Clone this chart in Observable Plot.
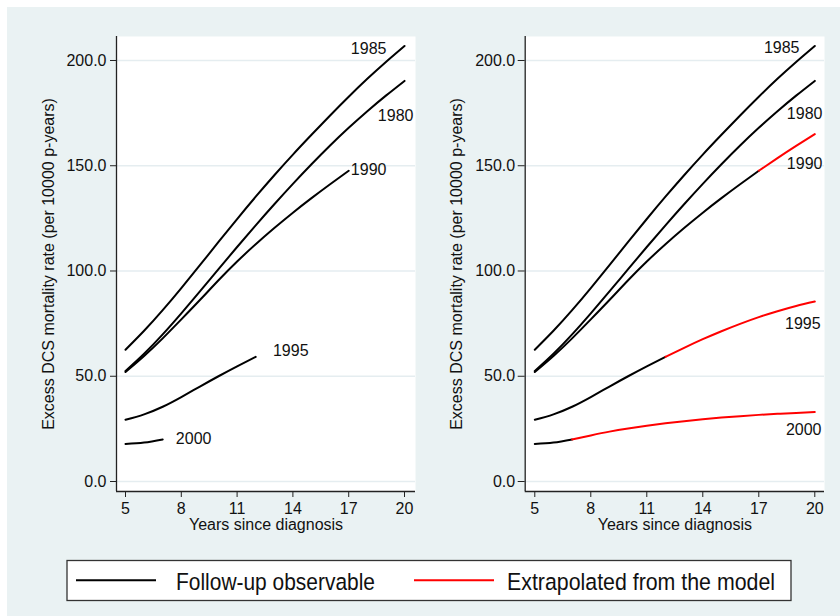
<!DOCTYPE html>
<html>
<head>
<meta charset="utf-8">
<script src="https://cdn.jsdelivr.net/npm/d3@7"></script>
<script src="https://cdn.jsdelivr.net/npm/@observablehq/plot@0.6"></script>
<style>
  body { margin: 0; background: #ffffff; }
  #wrap { position: relative; width: 840px; height: 616px; overflow: hidden; font-family: "Liberation Sans", Arial, sans-serif; }
  #bg { position: absolute; left: 7px; top: 7px; right: 0; bottom: 0; background: #eaf2f3; }
  .panel { position: absolute; top: 0; }
  #legend { position: absolute; left: 0; top: 540px; }
</style>
</head>
<body>
<div id="wrap">
  <div id="bg"></div>
  <div id="left" class="panel" style="left:0px"></div>
  <div id="right" class="panel" style="left:420px"></div>
  <svg id="legend" width="840" height="76"></svg>
</div>
<script>
// ---- data ----
const years = [5, 6, 7, 8, 9, 10, 11, 12, 13, 14, 15, 16, 17, 18, 19, 20];
const cohorts = ["1980", "1985", "1990", "1995", "2000"];
const rate1980 = [52.5, 60.7, 69.9, 79.9, 90.3, 100.9, 111.4, 121.7, 131.7, 141.4, 150.7, 159.6, 168, 175.9, 183.3, 190.3];
const rate1985 = [62.6, 71.6, 81.4, 91.9, 102.8, 113.8, 124.7, 135.3, 145.5, 155.3, 164.7, 173.9, 182.8, 191.3, 199.3, 206.9];
const rate1990 = [52, 59.6, 68, 77, 86.2, 95.6, 104.5, 112.7, 120.4, 127.7, 134.6, 141.2, 147.6, 153.6, 159.4, 165];
const rate1995 = [29.3, 31.9, 35.5, 40.1, 45.1, 50, 54.7, 59.2, 63.5, 67.6, 71.4, 74.9, 78.1, 80.9, 83.4, 85.5];
const rate2000 = [17.8, 18.5, 20, 21.9, 23.7, 25.2, 26.5, 27.65, 28.65, 29.55, 30.35, 31.05, 31.65, 32.15, 32.6, 33];
const rates = [rate1980, rate1985, rate1990, rate1995, rate2000];
const observedUntil = [20, 20, 17, 12, 7];   // last year of observable follow-up per cohort

const xTicks = [5, 8, 11, 14, 17, 20];
const yTicks = [0, 50, 100, 150, 200];

// cohort label anchors (year, rate) for each panel
const leftLabelYear = [20.48, 19.03, 19.03, 14.84, 9.62];
const leftLabelRate = [173.9, 205.7, 148.2, 62.2, 20.4];
const rightLabelYear = [20.41, 19.18, 20.41, 20.31, 20.36];
const rightLabelRate = [174.8, 206.2, 151.1, 75.1, 24.7];

const xTitle = "Years since diagnosis";
const yTitle = "Excess DCS mortality rate (per 10000 p-years)";
const legendLabels = ["Follow-up observable", "Extrapolated from the model"];

// ---- build ----
const FONT = "'Liberation Sans', Arial, Helvetica, sans-serif";

function buildRows(withExtrap) {
  const rows = [];
  cohorts.forEach((c, i) => {
    years.forEach((yr, j) => {
      if (yr <= observedUntil[i]) rows.push({cohort: c, part: "obs", year: yr, value: rates[i][j]});
      if (withExtrap && observedUntil[i] < 20 && yr >= observedUntil[i])
        rows.push({cohort: c, part: "ext", year: yr, value: rates[i][j]});
    });
  });
  return rows;
}

function panel({withExtrap, marginLeft, marginRight, xDomain, labelYear, labelRate, tickSizeY, tickPaddingY}) {
  const rows = buildRows(withExtrap);
  const labels = cohorts.map((c, i) => ({t: c, x: labelYear[i], y: labelRate[i]}));
  const yDomain = [-4.75, 211.4];
  return Plot.plot({
    width: 420,
    height: 540,
    marginTop: 36,
    marginBottom: 49,
    marginLeft,
    marginRight,
    style: {background: "transparent", fontFamily: FONT, fontSize: "16px", color: "#000", overflow: "visible"},
    x: {domain: xDomain},
    y: {domain: yDomain},
    color: {domain: ["obs", "ext"], range: ["#000000", "#ff0000"]},
    marks: [
      Plot.frame({fill: "white", stroke: "none"}),
      Plot.ruleY(yTicks, {stroke: "#e5edf0", strokeWidth: 1.5}),
      Plot.line(rows, {x: "year", y: "value", z: d => d.cohort + d.part, stroke: "part",
        curve: "natural", strokeWidth: 2}),
      Plot.text(labels, {x: "x", y: "y", text: "t", textAnchor: "end", fontSize: 16, fill: "#111"}),
      Plot.ruleX([xDomain[0]], {stroke: "#222", strokeWidth: 1.3}),
      Plot.ruleY([yDomain[0]], {stroke: "#222", strokeWidth: 1.3}),
      Plot.axisX({ticks: xTicks, tickSize: 6, tickPadding: 5, fontSize: 16, label: null, stroke: "#222", fill: "#111"}),
      Plot.axisY({ticks: yTicks, tickFormat: d3.format(".1f"), tickSize: tickSizeY, tickPadding: tickPaddingY,
        fontSize: 16, label: null, stroke: "#222", fill: "#111"}),
      Plot.text([xTitle], {frameAnchor: "bottom", dy: 33, lineAnchor: "middle", textAnchor: "middle", fontSize: 16, fill: "#111"}),
      Plot.text([yTitle], {frameAnchor: "left", dx: -68, rotate: -90, textAnchor: "middle", lineAnchor: "middle", fontSize: 16, fill: "#111"})
    ]
  });
}

document.getElementById("left").append(panel({
  withExtrap: false, marginLeft: 116, marginRight: 5, xDomain: [4.516, 20.591],
  labelYear: leftLabelYear, labelRate: leftLabelRate, tickSizeY: 6, tickPaddingY: 4
}));
document.getElementById("right").append(panel({
  withExtrap: true, marginLeft: 104.7, marginRight: 16, xDomain: [4.486, 20.52],
  labelYear: rightLabelYear, labelRate: rightLabelRate, tickSizeY: 7, tickPaddingY: 3
}));

// ---- legend ----
const lg = d3.select("#legend");
lg.append("rect").attr("x", 67).attr("y", 20.5).attr("width", 724).attr("height", 40)
  .attr("fill", "white").attr("stroke", "#333").attr("stroke-width", 1.3);
const legendColors = ["#000000", "#ff0000"];
const legendLineX = [76, 414];
const legendTextX = [176, 507];
const legendTextW = [199, 268];
legendLabels.forEach((t, i) => {
  lg.append("line").attr("x1", legendLineX[i]).attr("x2", legendLineX[i] + 80)
    .attr("y1", 40.3).attr("y2", 40.3).attr("stroke", legendColors[i]).attr("stroke-width", 2);
  lg.append("text").attr("x", legendTextX[i]).attr("y", 50)
    .attr("font-family", FONT).attr("font-size", 24.5).attr("fill", "#111")
    .attr("textLength", legendTextW[i]).attr("lengthAdjust", "spacingAndGlyphs").text(t);
});
</script>
</body>
</html>
